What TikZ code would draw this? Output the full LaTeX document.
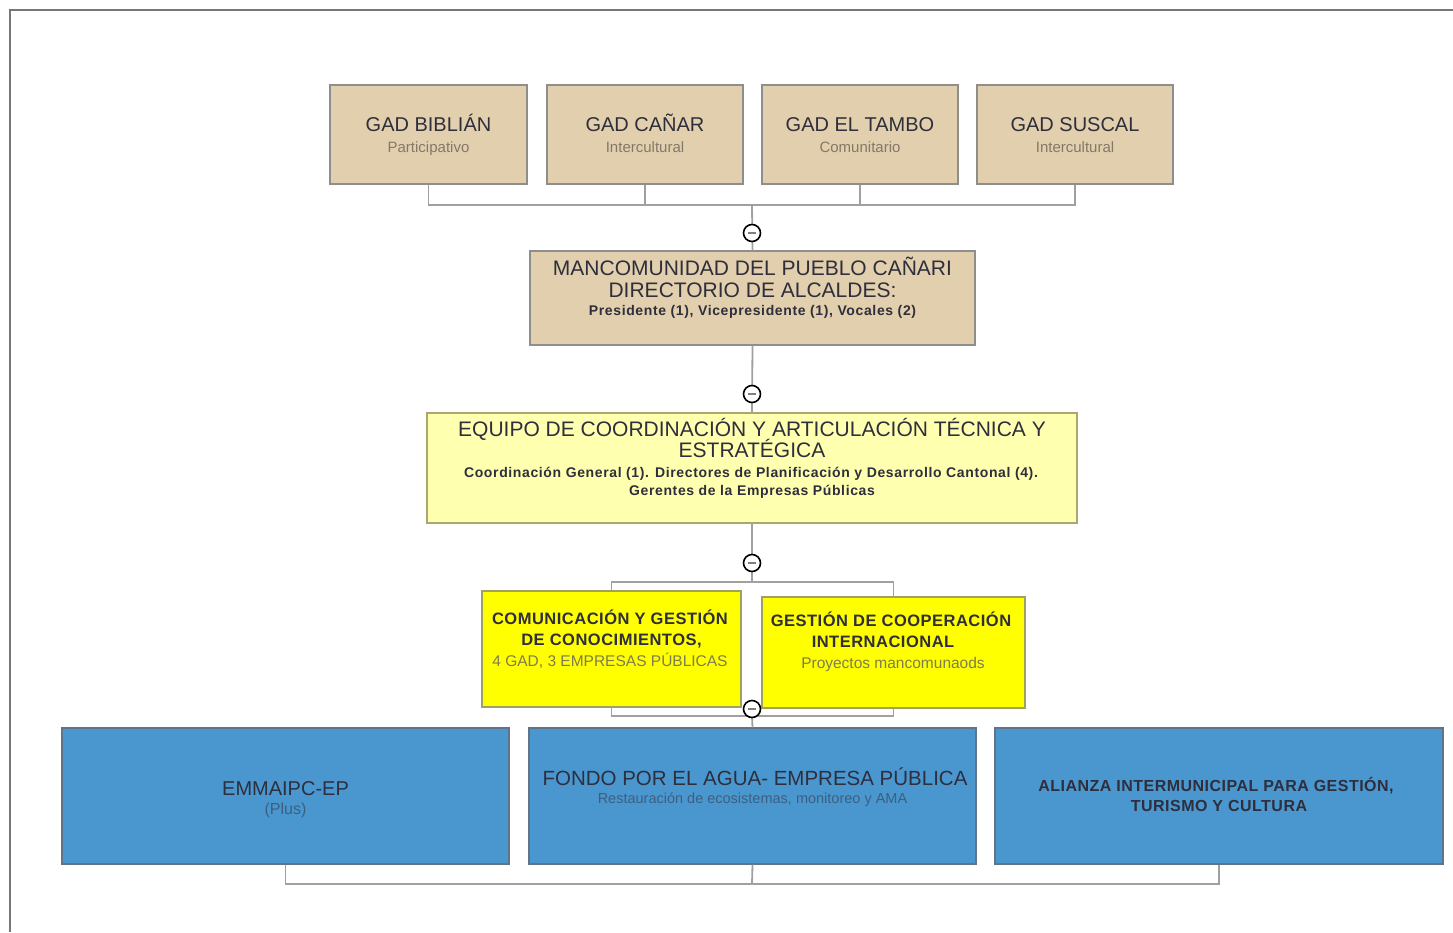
\documentclass[tikz,border=0pt]{standalone}
\usepackage{fontspec}
\setmainfont{Liberation Sans}
\definecolor{tanc}{HTML}{E2CFAD}
\definecolor{tanb}{HTML}{8E8E8E}
\definecolor{lyel}{HTML}{FFFFB0}
\definecolor{lyelb}{HTML}{A8A870}
\definecolor{yel}{HTML}{FFFF00}
\definecolor{yelb}{HTML}{A0A060}
\definecolor{blu}{HTML}{4A97CF}
\definecolor{blub}{HTML}{5F7486}
\definecolor{titlec}{HTML}{2E2E3C}
\definecolor{tansub}{HTML}{857868}
\definecolor{yelsub}{HTML}{7D7D50}
\definecolor{blusub}{HTML}{3C5F80}
\definecolor{connc}{HTML}{A0A0A0}
\definecolor{framec}{HTML}{777777}
\begin{document}
\begin{tikzpicture}[x=1pt,y=-1pt,
  box/.style={draw, line width=1.2, inner sep=0, anchor=center},
  tanbox/.style={box, fill=tanc, draw=tanb},
  lyelbox/.style={box, fill=lyel, draw=lyelb},
  yelbox/.style={box, fill=yel, draw=yelb},
  blubox/.style={box, fill=blu, draw=blub},
  txt/.style={anchor=base, inner sep=0, text=titlec},
  conn/.style={draw=connc, line width=1.8},
  knob/.style={circle, draw=black, line width=1.6, fill=white, minimum size=17, inner sep=0,
    path picture={\draw[gray, line width=1.4] (path picture bounding box.center) ++(-4,0) -- ++(8,0);}},
  fA/.style={font=\fontsize{20}{24}\selectfont},
  fB/.style={font=\fontsize{21}{24}\selectfont},
  fS/.style={font=\fontsize{15}{18}\selectfont},
  fSB/.style={font=\bfseries\fontsize{14}{16}\selectfont\addfontfeatures{LetterSpace=4.5}},
  fY/.style={font=\bfseries\fontsize{16.5}{18}\selectfont\addfontfeatures{LetterSpace=3}},
  fYS/.style={font=\fontsize{15.5}{18}\selectfont},
]
\useasboundingbox (0,0) rectangle (1453,932);
\draw[framec, line width=2] (10,932) -- (10,10) -- (1453,10);

% top boxes
\node[tanbox, minimum width=197, minimum height=99] (b1) at (428.5,134.5) {};
\node[tanbox, minimum width=196, minimum height=99] (b2) at (645,134.5) {};
\node[tanbox, minimum width=196, minimum height=99] (b3) at (860,134.5) {};
\node[tanbox, minimum width=196, minimum height=99] (b4) at (1075,134.5) {};
\node[txt, fA] (b1t) at (428.5,131) {GAD BIBLIÁN};
\node[txt, fS, text=tansub] (b1s) at (428.5,152) {Participativo};
\node[txt, fA] (b2t) at (645,131) {GAD CAÑAR};
\node[txt, fS, text=tansub] (b2s) at (645,152) {Intercultural};
\node[txt, fA] (b3t) at (860,131) {GAD EL TAMBO};
\node[txt, fS, text=tansub] (b3s) at (860,152) {Comunitario};
\node[txt, fA] (b4t) at (1075,131) {GAD SUSCAL};
\node[txt, fS, text=tansub] (b4s) at (1075,152) {Intercultural};

% mancomunidad
\node[tanbox, minimum width=445, minimum height=94] (m) at (752.5,298) {};
\node[txt, fB] (mt1) at (752.5,275) {MANCOMUNIDAD DEL PUEBLO CAÑARI};
\node[txt, fB] (mt2) at (752.5,297) {DIRECTORIO DE ALCALDES:};
\node[txt, fSB] (mt3) at (752.5,315) {Presidente (1), Vicepresidente (1), Vocales (2)};

% equipo
\node[lyelbox, minimum width=650, minimum height=110] (e) at (752,468) {};
\node[txt, fB] (et1) at (752,436) {EQUIPO DE COORDINACIÓN Y ARTICULACIÓN TÉCNICA Y};
\node[txt, fB] (et2) at (752,457) {ESTRATÉGICA};
\node[txt, fSB] (et3) at (751,477) {Coordinación General (1). Directores de Planificación y Desarrollo Cantonal (4).};
\node[txt, fSB] (et4) at (752,495) {Gerentes de la Empresas Públicas};

% yellow boxes
\node[yelbox, minimum width=259, minimum height=116] (y1) at (611.5,649) {};
\node[txt, fY] (y1t1) at (610,624) {COMUNICACIÓN Y GESTIÓN};
\node[txt, fY] (y1t2) at (611.5,645) {DE CONOCIMIENTOS,};
\node[txt, fYS, text=yelsub] (y1s) at (610,666) {4 GAD, 3 EMPRESAS PÚBLICAS};
\node[yelbox, minimum width=263, minimum height=111] (y2) at (893.5,652.5) {};
\node[txt, fY] (y2t1) at (891,626) {GESTIÓN DE COOPERACIÓN};
\node[txt, fY] (y2t2) at (883,647) {INTERNACIONAL};
\node[txt, fYS, text=yelsub] (y2s) at (893,668) {Proyectos mancomunaods};

% blue boxes
\node[blubox, minimum width=447, minimum height=136] (p1) at (285.5,796) {};
\node[txt, fA] (p1t) at (285.5,795) {EMMAIPC-EP};
\node[txt, font=\fontsize{16}{18}\selectfont, text=blusub] (p1s) at (285.5,814) {(Plus)};
\node[blubox, minimum width=447, minimum height=136] (p2) at (752.5,796) {};
\node[txt, font=\fontsize{20.5}{24}\selectfont] (p2t) at (755,785) {FONDO POR EL AGUA- EMPRESA PÚBLICA};
\node[txt, font=\fontsize{14.5}{17}\selectfont, text=blusub] (p2s) at (752.5,803) {Restauración de ecosistemas, monitoreo y AMA};
\node[blubox, minimum width=448, minimum height=136] (p3) at (1219,796) {};
\node[txt, font=\bfseries\fontsize{16}{18}\selectfont\addfontfeatures{LetterSpace=3}] (p3t1) at (1216,791) {ALIANZA INTERMUNICIPAL PARA GESTIÓN,};
\node[txt, font=\bfseries\fontsize{16}{18}\selectfont\addfontfeatures{LetterSpace=3}] (p3t2) at (1219,811) {TURISMO Y CULTURA};

% junctions
\coordinate (j1) at (752,205);
\coordinate (j3) at (752,582);
\coordinate (j4) at (752,716);
\coordinate (j5) at (752,884);

% connectors
\draw[conn] (b1.south) |- (j1);
\draw[conn] (b2.south) |- (j1);
\draw[conn] (b3.south) |- (j1);
\draw[conn] (b4.south) |- (j1);
\draw[conn] (j1) -- (m.north);
\draw[conn] (m.south) -- (e.north);
\draw[conn] (e.south) -- (j3);
\draw[conn] (j3) -| (y1.north);
\draw[conn] (j3) -| (y2.north);
\draw[conn] (y1.south) |- (j4);
\draw[conn] (y2.south) |- (j4);
\draw[conn] (j4) -- (p2.north);
\draw[conn] (p1.south) |- (j5);
\draw[conn] (p2.south) -- (j5);
\draw[conn] (p3.south) |- (j5);

% collapse knobs
\node[knob] (c1) at (752,233) {};
\node[knob] (c2) at (752,394) {};
\node[knob] (c3) at (752,563) {};
\node[knob] (c4) at (752,709) {};
\end{tikzpicture}
\end{document}
